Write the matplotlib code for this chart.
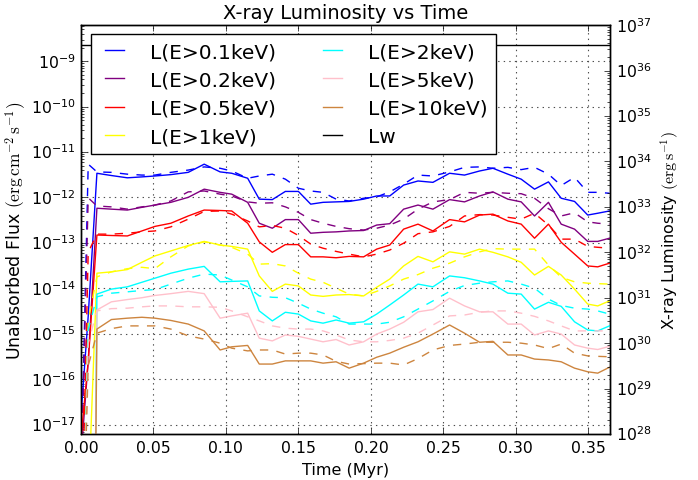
import numpy as np
import matplotlib
matplotlib.use("Agg")
import matplotlib.pyplot as plt

plt.style.use("classic")

# time grid of the outputs (Myr)
time_myr = [0.0, 0.005, 0.011, 0.021, 0.032, 0.042, 0.051, 0.062, 0.074, 0.085,
            0.096, 0.104, 0.115, 0.123, 0.132, 0.141, 0.150, 0.1585, 0.167, 0.176,
            0.185, 0.195, 0.204, 0.213, 0.2226, 0.2325, 0.2428, 0.2543, 0.2646, 0.275,
            0.2842, 0.2945, 0.3037, 0.3129, 0.3225, 0.3313, 0.3405, 0.3496, 0.3565, 0.3646]

# log10 L (erg/s) above each energy threshold, solid = model A, dashed = model B
logL_01 = [28.4, 30.6, 33.74, 33.69, 33.64, 33.66, 33.68, 33.71, 33.76, 33.94,
           33.77, 33.74, 33.63, 33.17, 33.16, 33.34, 33.34, 33.06, 33.10, 33.11,
           33.12, 33.17, 33.24, 33.24, 33.48, 33.57, 33.54, 33.74, 33.70, 33.79,
           33.85, 33.72, 33.61, 33.39, 33.55, 33.19, 33.12, 32.82, 32.86, 32.91]
logL_02 = [27.5, 29.6, 32.97, 32.95, 32.93, 32.99, 33.04, 33.10, 33.21, 33.39,
           33.32, 33.28, 33.10, 32.64, 32.53, 32.72, 32.72, 32.42, 32.44, 32.45,
           32.47, 32.48, 32.60, 32.63, 32.95, 33.04, 32.95, 33.16, 33.11, 33.24,
           33.33, 33.17, 33.11, 32.80, 33.10, 32.62, 32.51, 32.24, 32.24, 32.31]
logL_05 = [27.9, 29.6, 32.38, 32.37, 32.36, 32.47, 32.57, 32.64, 32.80, 32.93,
           32.92, 32.91, 32.64, 32.23, 32.00, 32.17, 32.17, 31.90, 31.90, 31.88,
           31.91, 31.90, 32.07, 32.16, 32.51, 32.62, 32.47, 32.72, 32.67, 32.82,
           32.84, 32.69, 32.62, 32.31, 32.62, 32.22, 31.96, 31.70, 31.68, 31.76]
logL_1 = [20.0, 26.5, 31.54, 31.57, 31.62, 31.78, 31.92, 32.03, 32.15, 32.24,
          32.16, 32.13, 32.07, 31.48, 31.14, 31.30, 31.26, 31.06, 31.03, 31.06,
          31.07, 31.04, 31.23, 31.41, 31.70, 31.91, 31.79, 32.01, 31.96, 32.07,
          32.00, 31.90, 31.78, 31.50, 31.69, 31.50, 31.19, 30.86, 30.82, 30.93]
logL_2 = [10.0, 10.0, 31.08, 31.19, 31.24, 31.34, 31.43, 31.54, 31.63, 31.69,
          31.35, 31.36, 31.37, 30.71, 30.49, 30.68, 30.64, 30.49, 30.44, 30.51,
          30.44, 30.47, 30.64, 30.84, 31.06, 31.30, 31.24, 31.48, 31.44, 31.37,
          31.30, 31.10, 31.08, 30.75, 30.90, 30.81, 30.47, 30.29, 30.27, 30.38]
logL_5 = [10.0, 10.0, 30.73, 30.91, 30.96, 31.00, 31.05, 31.09, 31.14, 31.09,
          30.55, 30.60, 30.66, 30.11, 30.05, 30.18, 30.15, 30.09, 30.03, 30.08,
          29.96, 30.03, 30.20, 30.31, 30.46, 30.69, 30.74, 30.99, 30.82, 30.69,
          30.69, 30.42, 30.42, 30.18, 30.27, 30.20, 29.96, 29.89, 29.86, 29.93]
logL_10 = [10.0, 10.0, 30.31, 30.52, 30.55, 30.57, 30.55, 30.50, 30.42, 30.27,
           29.85, 29.92, 29.95, 29.54, 29.54, 29.61, 29.61, 29.61, 29.56, 29.59,
           29.45, 29.56, 29.69, 29.78, 29.91, 30.03, 30.20, 30.40, 30.22, 30.02,
           30.04, 29.74, 29.74, 29.65, 29.63, 29.59, 29.45, 29.37, 29.34, 29.47]

logL_01_b = [27.0, 33.94, 33.77, 33.76, 33.72, 33.70, 33.70, 33.76, 33.81, 33.88,
             33.85, 33.79, 33.63, 33.68, 33.72, 33.61, 33.41, 33.35, 33.32, 33.17,
             33.13, 33.19, 33.22, 33.33, 33.50, 33.70, 33.68, 33.77, 33.87, 33.88,
             33.85, 33.87, 33.82, 33.87, 33.72, 33.47, 33.65, 33.32, 33.32, 33.30]
logL_02_b = [27.0, 33.20, 33.02, 33.00, 32.95, 33.00, 33.04, 33.13, 33.33, 33.35,
             33.28, 33.24, 33.11, 33.08, 33.09, 33.00, 32.88, 32.72, 32.64, 32.57,
             32.52, 32.49, 32.53, 32.60, 32.73, 32.95, 33.11, 33.16, 33.32, 33.30,
             33.32, 33.30, 33.29, 33.19, 32.96, 32.80, 32.87, 32.67, 32.64, 32.62]
logL_05_b = [25.0, 32.00, 32.40, 32.40, 32.42, 32.45, 32.47, 32.56, 32.73, 32.90,
             32.91, 32.84, 32.69, 32.56, 32.59, 32.53, 32.37, 32.18, 32.09, 32.02,
             31.96, 31.90, 31.96, 32.05, 32.20, 32.41, 32.45, 32.57, 32.80, 32.83,
             32.82, 32.77, 32.73, 32.86, 32.60, 32.29, 32.29, 32.13, 32.11, 32.09]
logL_1_b = [24.0, 30.50, 31.46, 31.57, 31.64, 31.67, 31.64, 31.90, 32.14, 32.23,
            32.16, 32.11, 31.96, 31.74, 31.75, 31.70, 31.54, 31.41, 31.34, 31.21,
            31.08, 31.04, 31.14, 31.26, 31.41, 31.51, 31.65, 31.76, 31.90, 32.01,
            32.08, 32.07, 32.07, 32.07, 31.72, 31.45, 31.35, 31.32, 31.31, 31.30]
logL_2_b = [24.0, 30.30, 31.02, 31.10, 31.13, 31.16, 31.18, 31.30, 31.43, 31.52,
            31.50, 31.39, 31.24, 31.04, 31.01, 31.00, 30.88, 30.75, 30.66, 30.58,
            30.42, 30.42, 30.42, 30.46, 30.58, 30.75, 30.93, 31.14, 31.27, 31.32,
            31.35, 31.37, 31.30, 31.21, 30.97, 30.83, 30.77, 30.75, 30.71, 30.64]
logL_5_b = [24.0, 30.00, 30.71, 30.76, 30.77, 30.80, 30.82, 30.82, 30.80, 30.80,
            30.79, 30.71, 30.58, 30.49, 30.38, 30.33, 30.31, 30.31, 30.27, 30.18,
            30.07, 30.03, 30.03, 30.06, 30.11, 30.22, 30.40, 30.60, 30.62, 30.68,
            30.71, 30.71, 30.66, 30.59, 30.49, 30.38, 30.27, 30.27, 30.27, 30.27]
logL_10_b = [24.0, 29.50, 30.22, 30.32, 30.38, 30.38, 30.38, 30.31, 30.16, 30.09,
             30.00, 29.89, 29.83, 29.85, 29.85, 29.76, 29.78, 29.78, 29.74, 29.60,
             29.54, 29.55, 29.56, 29.56, 29.52, 29.66, 29.85, 29.95, 29.98, 30.02,
             30.02, 30.02, 30.00, 29.96, 29.88, 29.98, 29.78, 29.72, 29.71, 29.70]

logLw = 36.56          # wind luminosity, constant
distance_kpc = 3.67    # used to turn L into flux on the left axis

band_labels = ["L(E>0.1keV)", "L(E>0.2keV)", "L(E>0.5keV)", "L(E>1keV)",
               "L(E>2keV)", "L(E>5keV)", "L(E>10keV)"]
band_colors = ["b", "purple", "r", "yellow", "cyan", "pink", "peru"]

solid = [logL_01, logL_02, logL_05, logL_1, logL_2, logL_5, logL_10]
dashed = [logL_01_b, logL_02_b, logL_05_b, logL_1_b, logL_2_b, logL_5_b, logL_10_b]

t = np.array(time_myr)
kpc = 3.0857e21
k_flux = 1.0 / (4 * np.pi * (distance_kpc * kpc) ** 2)

fig = plt.figure(figsize=(6.98, 4.81), dpi=100, facecolor="white")
ax = fig.add_axes([0.116, 0.0956, 0.758, 0.850])
ax2 = ax.twinx()

for lab, col, s, d in zip(band_labels, band_colors, solid, dashed):
    ax2.plot(t, 10 ** np.array(s), color=col, lw=1.0, ls="-", label=lab)
    ax2.plot(t, 10 ** np.array(d), color=col, lw=1.0, ls="--")
ax2.plot([0.0, 0.4], [10 ** logLw] * 2, color="k", lw=1.0, label="Lw")

ax2.set_yscale("log")
ax2.set_ylim(1e28, 1e37)
ax.set_yscale("log")
ax.set_ylim(1e28 * k_flux, 1e37 * k_flux)
ax.set_xlim(0, 0.365)
ax.set_xticks(np.arange(0, 0.36, 0.05))
ax.xaxis.set_major_formatter(matplotlib.ticker.FormatStrFormatter("%.2f"))
ax.grid(True, color="0.3", linestyle=":", linewidth=0.8)

ax.tick_params(labelsize=11.3)
ax2.tick_params(labelsize=11.3)

ax.set_xlabel("Time (Myr)", fontsize=11.5)
ax.set_ylabel(r"Unabsorbed Flux $(\mathrm{erg\,cm^{-2}\,s^{-1}})$", fontsize=12.5)
ax.yaxis.set_label_coords(-0.098, 0.5)
ax2.set_ylabel(r"X-ray Luminosity $(\mathrm{erg\,s^{-1}})$", fontsize=11.5)
ax.set_title("X-ray Luminosity vs Time", fontsize=14)

ax2.legend(loc="upper left", bbox_to_anchor=(0.019, 0.978), ncol=2, fontsize=14.5,
           handlelength=1.55, handletextpad=1.0, columnspacing=2.0,
           labelspacing=0.46, borderpad=0.4, borderaxespad=0, fancybox=False)

fig.savefig("out.png", dpi=100, facecolor="white")
